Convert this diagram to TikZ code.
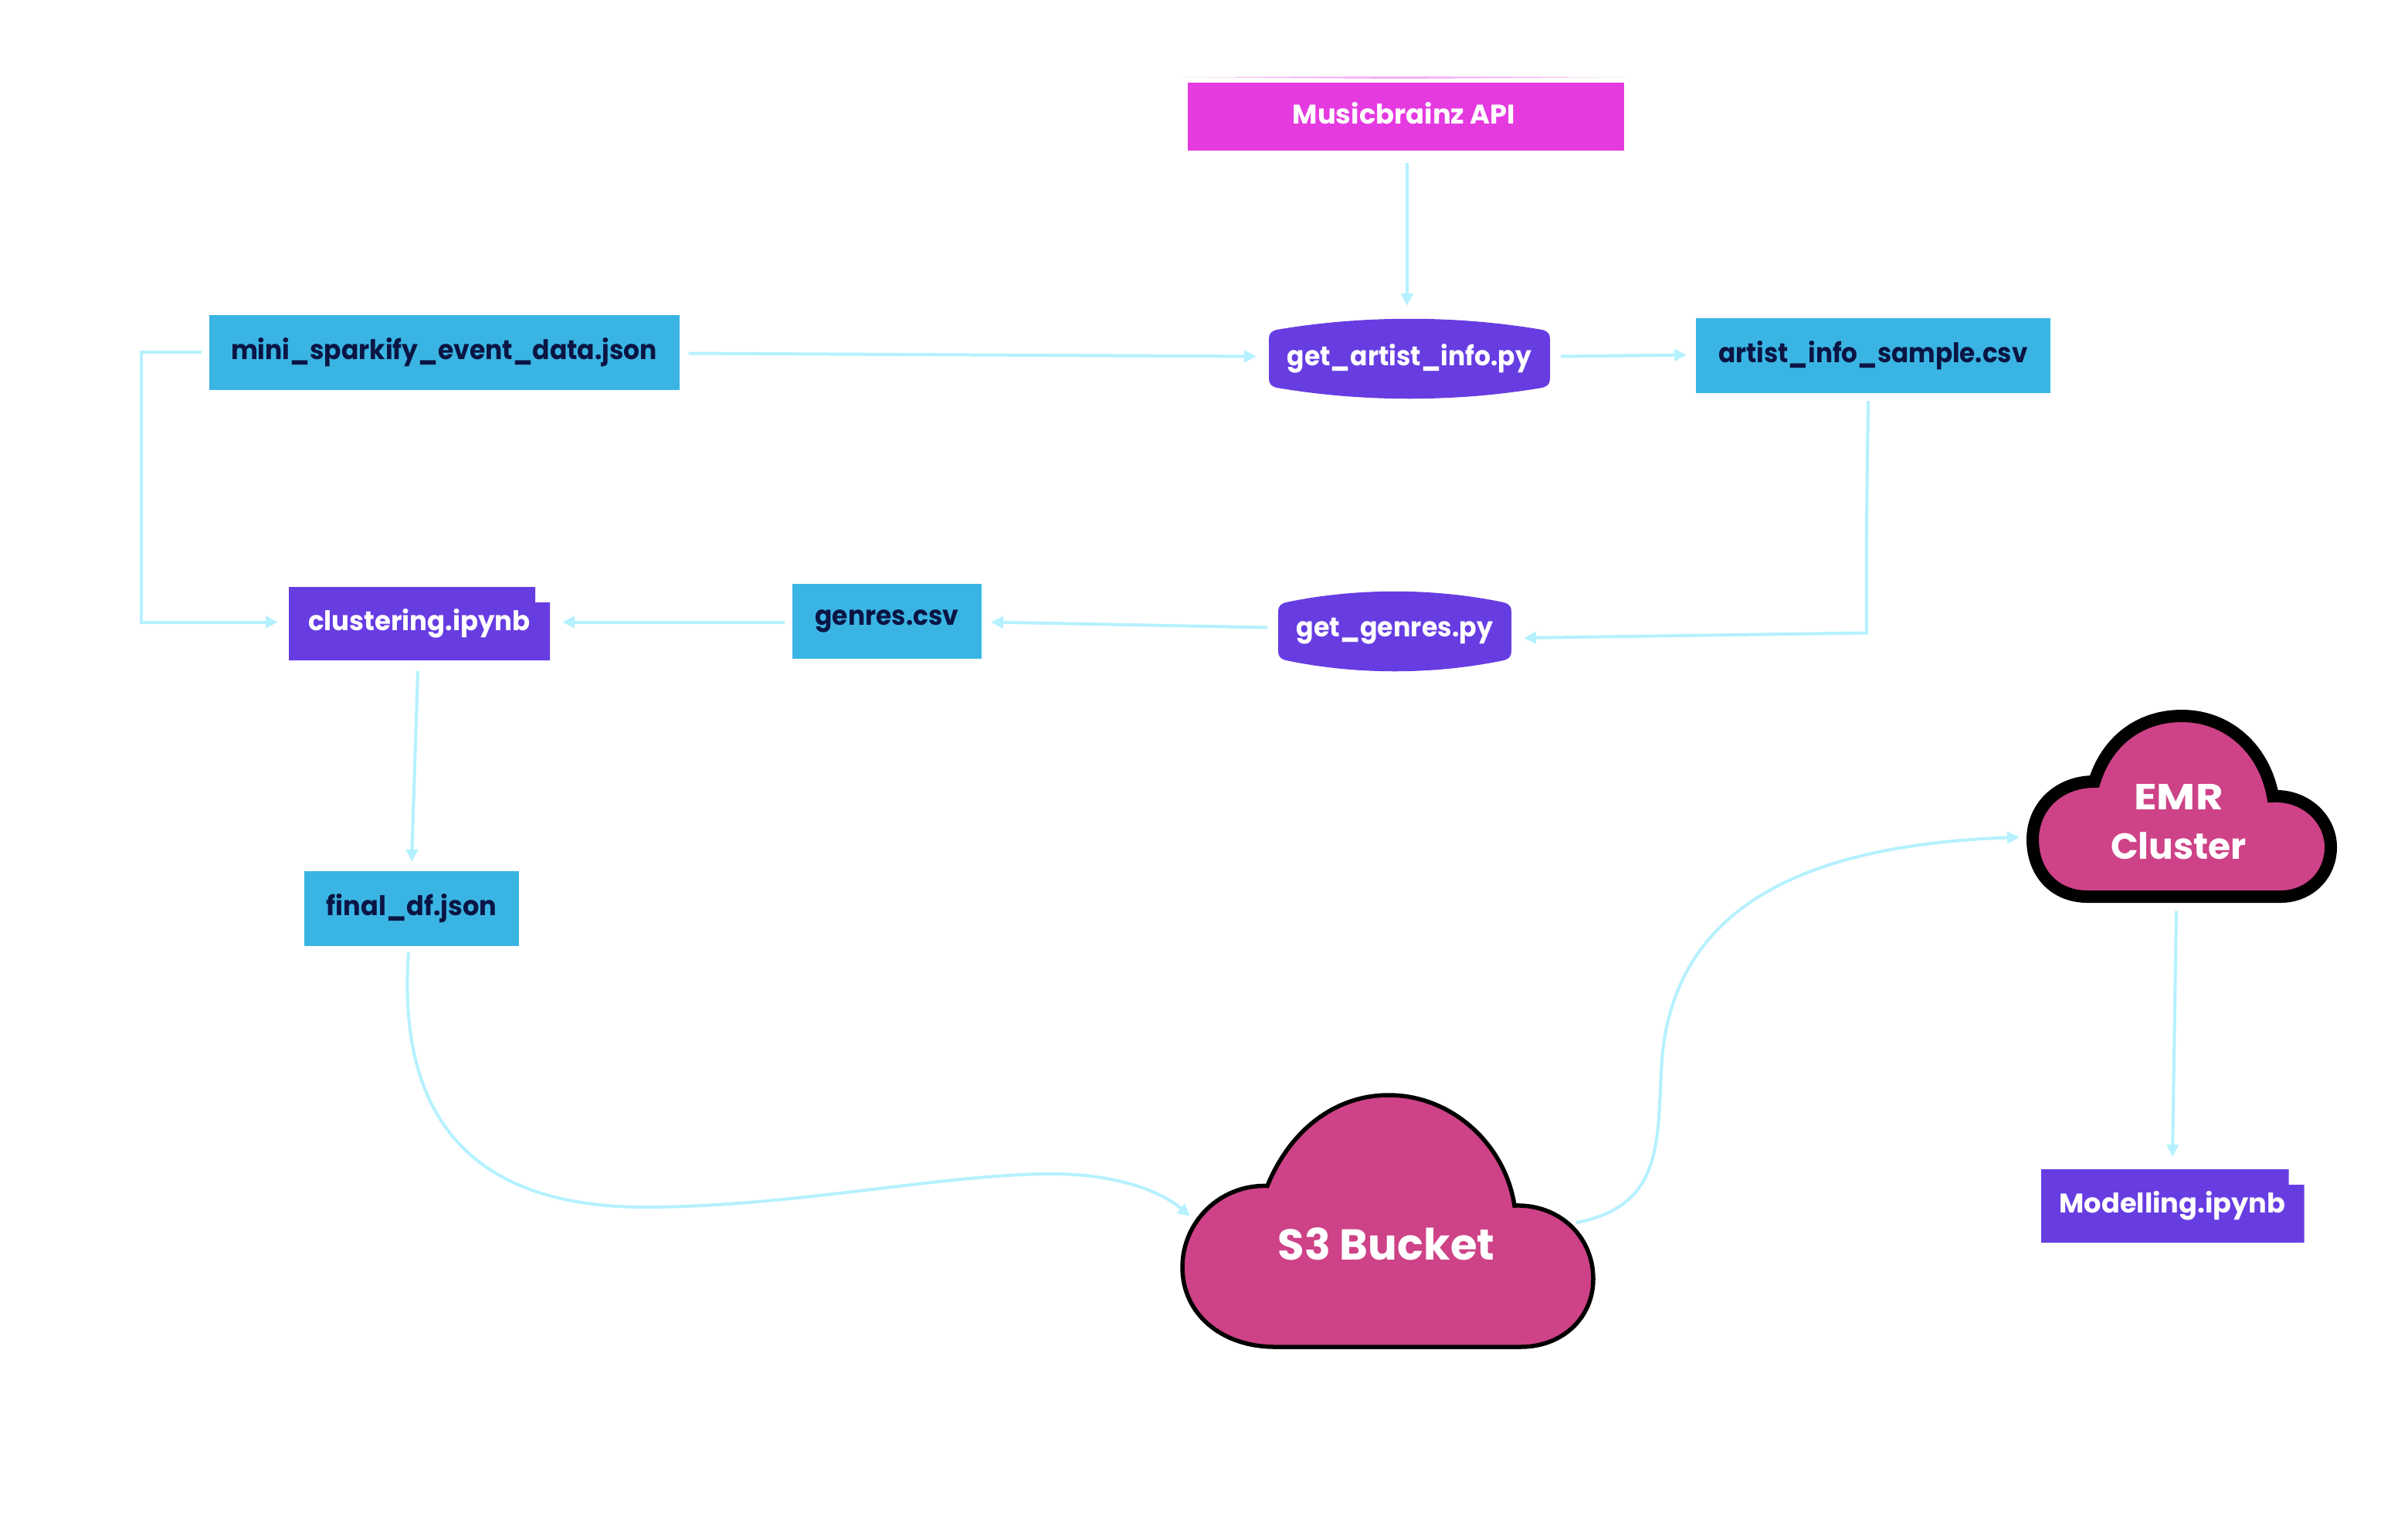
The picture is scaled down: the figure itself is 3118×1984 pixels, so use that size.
\documentclass[tikz,border=0pt]{standalone}
\usepackage{fontspec}
\setmainfont{Poppins}
\newfontfamily\heavyfont{Poppins Bold}
\usetikzlibrary{arrows.meta}
\definecolor{bluebox}{HTML}{3AB5E3}
\definecolor{navy}{HTML}{0B1544}
\definecolor{purp}{HTML}{673DE2}
\definecolor{magen}{HTML}{E43AE0}
\definecolor{pinkc}{HTML}{CE4287}
\definecolor{conn}{HTML}{B5F1FF}
\newcommand{\fitlabel}[3]{\raisebox{#1pt}{\scalebox{#2}[1]{#3}}}
\newcommand{\barrelshape}[4]{% cx cy w h
  \fill[purp] ({#1-#3/2+10},{#2-#4/2+15}) .. controls ({#1-#3/6},{#2-#4/2-4}) and ({#1+#3/6},{#2-#4/2-4}) .. ({#1+#3/2-10},{#2-#4/2+15})
   .. controls ({#1+#3/2-3},{#2-#4/2+17}) and ({#1+#3/2},{#2-#4/2+20}) .. ({#1+#3/2},{#2-#4/2+27})
   -- ({#1+#3/2},{#2+#4/2-27}) .. controls ({#1+#3/2},{#2+#4/2-20}) and ({#1+#3/2-3},{#2+#4/2-17}) .. ({#1+#3/2-10},{#2+#4/2-15})
   .. controls ({#1+#3/6},{#2+#4/2+4}) and ({#1-#3/6},{#2+#4/2+4}) .. ({#1-#3/2+10},{#2+#4/2-15})
   .. controls ({#1-#3/2+3},{#2+#4/2-17}) and ({#1-#3/2},{#2+#4/2-20}) .. ({#1-#3/2},{#2+#4/2-27})
   -- ({#1-#3/2},{#2-#4/2+27}) .. controls ({#1-#3/2},{#2-#4/2+20}) and ({#1-#3/2+3},{#2-#4/2+17}) .. ({#1-#3/2+10},{#2-#4/2+15}) -- cycle;}
\newcommand{\notebookshape}[5]{% x1 y1 x2 y2 notchx
  \fill[purp] (#1,#2) -- (#5,#2) -- (#5,{#2+20}) -- (#3,{#2+20}) -- (#3,#4) -- (#1,#4) -- cycle;}
\begin{document}
\begin{tikzpicture}[x=1pt,y=-1pt,
  every node/.style={inner sep=0pt,outer sep=0pt,font=\bfseries\fontsize{35}{42}\selectfont},
  filebox/.style={fill=bluebox,text=navy,anchor=center},
  scriptbox/.style={text=white,anchor=center},
  cloudlabel/.style={text=white,align=center},
  link/.style={draw=conn,line width=4pt,-{Triangle[length=16pt,width=15pt,color=conn]}},
  cloudline/.style={fill=pinkc,draw=black,line join=miter}]
\useasboundingbox (0,0) rectangle (3118,1984);
\fill[white] (0,0) rectangle (3118,1984);

% clouds
\path[cloudline,line width=5.5pt] (1651,1744) .. controls (1581,1744) and (1531,1700.6) .. (1531,1641)
  .. controls (1531,1581) and (1581,1533.5) .. (1641,1535.5)
  .. controls (1671,1462) and (1730,1418) .. (1798,1418)
  .. controls (1880,1418) and (1949,1482) .. (1961,1561)
  .. controls (2019,1559) and (2063,1601) .. (2063,1656)
  .. controls (2063,1705.5) and (2024,1744) .. (1969,1744) -- cycle;
\path[cloudline,line width=16pt] (2703,1161) .. controls (2660,1161) and (2632,1130) .. (2632,1087)
  .. controls (2632,1045) and (2665,1012) .. (2712,1012)
  .. controls (2728,960) and (2770,927) .. (2825,927)
  .. controls (2885,927) and (2932,970) .. (2943,1031)
  .. controls (2985,1029) and (3018,1060) .. (3018,1097)
  .. controls (3018,1133) and (2990,1161) .. (2953,1161) -- cycle;
\node[cloudlabel,font=\heavyfont\fontsize{47}{64}\selectfont] (emr) at (2821,1064) {\scalebox{1.16}[1]{EMR}\\Cluster};
\node[cloudlabel,font=\heavyfont\fontsize{56}{60}\selectfont] (s3) at (1795,1611) {S3 Bucket};

% API
\fill[magen!40] (1530,100) -- (1810,99) -- (2104,100) -- (1810,102) -- cycle;
\node[fill=magen,text=white,minimum width=565pt,minimum height=88pt] (api) at (1820,151) {};
\node[text=white] at (1818,147) {\scalebox{1.01}[1]{Musicbrainz API}};

% scripts
\barrelshape{1825}{464.5}{364}{105}
\node[scriptbox,minimum width=364pt,minimum height=105pt] (artist) at (1825,464.5) {\fitlabel{4}{0.942}{get\_artist\_info.py}};
\barrelshape{1806}{817.5}{302}{105}
\node[scriptbox,minimum width=302pt,minimum height=105pt] (genrespy) at (1806,817.5) {\fitlabel{-3}{0.95}{get\_genres.py}};

% notebooks
\notebookshape{374}{760}{712}{855}{693}
\node[scriptbox,minimum width=338pt,minimum height=95pt] (clus) at (543,807.5) {\fitlabel{4}{0.971}{clustering.ipynb}};
\notebookshape{2643}{1514}{2983.5}{1609}{2963.5}
\node[scriptbox,minimum width=340pt,minimum height=95pt] (model) at (2813,1561.5) {\fitlabel{4}{1.005}{Modelling.ipynb}};

% files
\node[filebox,minimum width=609pt,minimum height=97pt] (mini) at (575,456.5) {\fitlabel{3}{0.942}{mini\_sparkify\_event\_data.json}};
\node[filebox,minimum width=459pt,minimum height=97pt] (sample) at (2425.5,460.5) {\fitlabel{3}{0.933}{artist\_info\_sample.csv}};
\node[filebox,minimum width=245pt,minimum height=97pt] (genres) at (1148.5,804.5) {\fitlabel{0}{0.942}{genres.csv}};
\node[filebox,minimum width=278pt,minimum height=97pt] (final) at (533,1176.5) {\fitlabel{3}{0.96}{final\_df.json}};

% connectors
\coordinate (bendA) at (183,455.5);
\coordinate (bendB) at (183,805.5);
\coordinate (bendC) at (2417,819.5);
\coordinate (s3in) at (1541,1575);
\coordinate (s3out) at (2041,1583);
\coordinate (emrin) at (2615,1084);
\coordinate (emrout) at (2818,1179.5);
\draw[link] ([xshift=2pt,yshift=-16pt]api.south) -- ([xshift=-3pt,yshift=16pt]artist.north);
\draw[link] ([xshift=12pt,yshift=-1pt]mini.east) -- ([xshift=-16pt,yshift=3pt]artist.west);
\draw[link] ([xshift=14pt,yshift=3pt]artist.east) -- ([xshift=-12pt,yshift=1pt]sample.west);
\draw[link] ([xshift=-6.5pt,yshift=-10pt]sample.south) .. controls (2418,600) and (2416,700) .. (bendC) -- ([xshift=16pt,yshift=-8.5pt]genrespy.east);
\draw[link] ([xshift=-14pt,yshift=5pt]genrespy.west) -- ([xshift=12pt,yshift=-1pt]genres.east);
\draw[link] ([xshift=-10pt,yshift=-1pt]genres.west) -- ([xshift=16pt,yshift=2pt]clus.east);
\draw[link] ([xshift=-10pt,yshift=1pt]mini.west) -- (bendA) -- (bendB) -- ([xshift=-14pt,yshift=2pt]clus.west);
\draw[link] ([xshift=-2pt,yshift=-14pt]clus.south) -- ([yshift=12pt]final.north);
\draw[link] ([xshift=-4pt,yshift=-8pt]final.south) .. controls (512,1472) and (636,1563) .. (835,1563) .. controls (1024,1563) and (1223,1520) .. (1362,1520) .. controls (1442,1520) and (1502,1541) .. (s3in);
\draw[link] (s3out) .. controls (2158,1561) and (2145,1472) .. (2152,1372) .. controls (2168,1173.5) and (2337,1094) .. (emrin);
\draw[link] (emrout) -- ([yshift=16pt]model.north);
\end{tikzpicture}
\end{document}
